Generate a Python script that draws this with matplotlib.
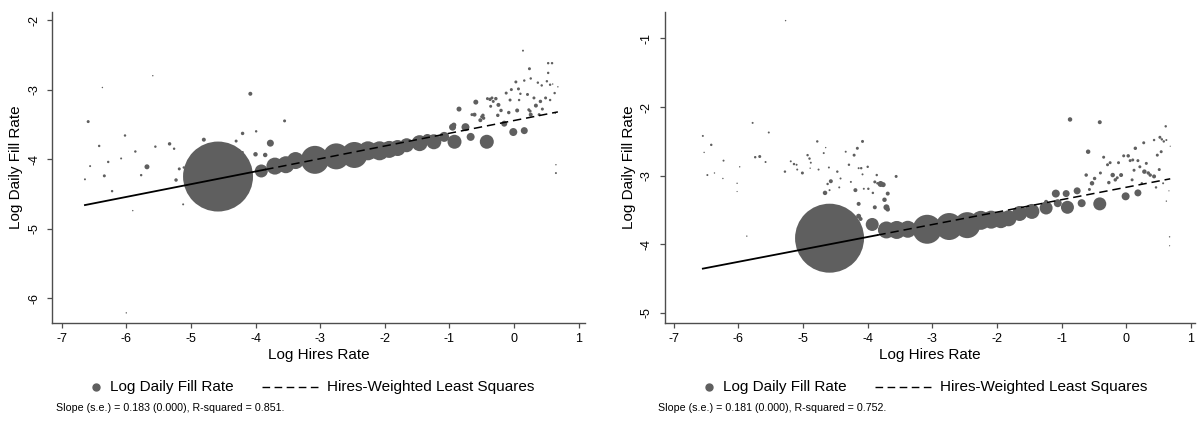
import matplotlib
matplotlib.use("Agg")
import matplotlib.pyplot as plt
import numpy as np
from matplotlib.lines import Line2D

plt.rcParams["font.family"] = ["Liberation Sans", "DejaVu Sans"]
plt.rcParams["axes.unicode_minus"] = False

# ---- left panel: log hires rate, log daily fill rate, hires weight ----
x_left = [-6.64, -6.59, -6.56, -6.42, -6.37, -6.34, -6.28, -6.22, -6.08, -6.02,
          -6.00, -5.90, -5.86, -5.77, -5.68, -5.59, -5.55, -5.33, -5.26, -5.23,
          -5.18, -5.12, -5.11, -4.80, -4.30, -4.26, -4.20, -4.20, -4.08, -4.00,
          -3.99, -3.85, -3.77, -3.55,
          -4.58,
          -3.91, -3.70, -3.53, -3.38, -3.08, -2.75, -2.47, -2.26, -2.08, -1.93,
          -1.80, -1.66, -1.46, -1.34, -1.24, -1.08, -0.92, -0.95, -0.93, -0.85,
          -0.75, -0.67, -0.61, -0.59, -0.52, -0.48, -0.47, -0.42, -0.37, -0.34,
          -0.36, -0.32, -0.28, -0.24, -0.25, -0.20, -0.15, -0.12, -0.08, -0.06,
          -0.04, -0.01, 0.03, 0.05,
          0.07, 0.08, 0.10, 0.16, 0.16, 0.21, 0.24, 0.26, 0.23, 0.26,
          0.31, 0.34, 0.37, 0.39, 0.41, 0.43, 0.44, 0.49, 0.51, 0.53,
          0.53, 0.56, 0.59, 0.60, 0.63, 0.65, 0.65, 0.68, 0.64, 0.14,
          0.25, 0.56, -0.50, -0.41, -0.65]
y_left = [-4.29, -3.46, -4.10, -3.81, -2.97, -4.24, -4.04, -4.46, -3.99, -3.66,
          -6.21, -4.74, -3.89, -4.23, -4.11, -2.80, -3.82, -3.78, -3.85, -4.30,
          -4.14, -4.65, -4.12, -3.72, -3.74, -3.87, -3.90, -3.63, -3.06, -3.93,
          -3.60, -3.94, -3.77, -3.45,
          -4.25,
          -4.17, -4.10, -4.08, -4.02, -4.01, -3.96, -3.94, -3.88, -3.88, -3.86,
          -3.84, -3.80, -3.77, -3.71, -3.75, -3.68, -3.75, -3.54, -3.51, -3.28,
          -3.54, -3.68, -3.36, -3.18, -3.44, -3.37, -3.41, -3.75, -3.14, -3.12,
          -3.24, -3.17, -3.13, -3.22, -3.37, -3.30, -3.49, -3.05, -3.33, -3.15,
          -3.00, -3.61, -2.89, -3.30,
          -2.99, -3.15, -3.06, -3.59, -2.87, -3.07, -2.70, -2.84, -3.29, -3.36,
          -3.12, -3.23, -2.90, -3.36, -3.17, -2.94, -3.28, -3.12, -2.88, -2.62,
          -2.76, -2.93, -2.62, -2.92, -3.05, -4.08, -4.20, -2.96, -3.34, -2.44,
          -3.31, -3.15, -3.39, -3.13, -3.36]
w_left = [4, 9, 4, 6, 2, 9, 6, 6, 4, 6,
          2, 2, 6, 6, 25, 2, 6, 12, 6, 12,
          9, 4, 6, 16, 9, 6, 6, 12, 16, 20,
          6, 20, 49, 9,
          4900,
          169, 289, 289, 289, 784, 676, 676, 361, 361, 289,
          256, 196, 256, 100, 225, 100, 196, 49, 25, 25,
          64, 64, 16, 25, 16, 12, 12, 196, 12, 9,
          9, 9, 12, 16, 12, 12, 36, 9, 12, 9,
          9, 64, 9, 16,
          9, 6, 6, 49, 6, 9, 9, 6, 9, 16,
          9, 16, 6, 9, 12, 6, 9, 9, 6, 6,
          6, 6, 6, 2, 6, 2, 4, 2, 2, 4,
          9, 6, 9, 9, 9]
slope_left, icept_left = 0.183, -3.445
note_left = "Slope (s.e.) = 0.183 (0.000), R-squared = 0.851."

# ---- right panel ----
x_right = [-6.55, -6.53, -6.42, -6.48, -6.37, -6.23, -6.24, -6.02, -6.02, -5.98,
           -5.87, -5.78, -5.74, -5.67, -5.58, -5.53, -5.27, -5.28, -5.19, -5.14,
           -5.10, -5.09, -5.01, -4.93, -4.90, -4.88, -4.89, -4.78, -4.76, -4.68,
           -4.65, -4.66, -4.62, -4.60, -4.57, -4.59, -4.47, -4.44, -4.42, -4.34,
           -4.29, -4.26, -4.21, -4.19, -4.16, -4.14, -4.14, -4.08, -4.10, -4.08,
           -4.06, -4.00, -3.99, -3.89, -3.89, -3.86, -3.85, -3.92, -3.80, -3.76,
           -3.74, -3.69, -3.71, -3.69, -3.56, -4.14, -4.11,
           -4.59,
           -3.93, -3.71, -3.55, -3.38, -3.08, -2.74, -2.46, -2.25, -2.09, -1.94,
           -1.82, -1.65, -1.46, -1.24, -0.91, -1.06, -1.09, -0.93, -0.76, -0.69,
           -0.41, -0.01, 0.18, -1.24,
           -0.87, -0.41, -0.59, -0.62, -0.53, -0.57, -0.49, -0.40, -0.35, -0.29,
           -0.25, -0.27, -0.21, -0.17, -0.14, -0.12, -0.08, -0.04, 0.03, 0.06,
           0.09, 0.10, 0.12, 0.14, 0.18, 0.21, 0.24, 0.27, 0.28, 0.31,
           0.34, 0.37, 0.43, 0.43, 0.46, 0.52, 0.55, 0.54, 0.57, 0.58,
           0.61, 0.62, 0.62, 0.67, 0.67, 0.66, 0.68, 0.51, 0.48]
y_right = [-2.42, -2.66, -2.55, -2.99, -2.96, -2.78, -3.04, -3.11, -3.23, -2.87,
           -3.88, -2.23, -2.73, -2.72, -2.80, -2.37, -0.74, -2.94, -2.79, -2.83,
           -2.84, -2.91, -2.96, -2.70, -2.75, -2.81, -2.89, -2.50, -2.91, -2.67,
           -2.59, -3.25, -3.12, -2.88, -3.08, -3.21, -2.94, -3.17, -3.04, -2.65,
           -2.84, -3.09, -2.70, -3.21, -2.60, -2.89, -3.41, -2.50, -2.89, -2.98,
           -3.19, -2.87, -3.19, -3.09, -3.46, -2.99, -3.11, -3.25, -3.12, -3.13,
           -3.35, -3.26, -3.46, -3.49, -3.01, -3.59, -3.63,
           -3.91,
           -3.71, -3.79, -3.79, -3.78, -3.78, -3.74, -3.72, -3.65, -3.64, -3.64,
           -3.62, -3.55, -3.52, -3.47, -3.46, -3.40, -3.26, -3.26, -3.22, -3.40,
           -3.41, -3.30, -3.25, -3.38,
           -2.18, -2.22, -2.65, -2.99, -3.11, -3.20, -3.04, -2.96, -2.73, -2.84,
           -2.81, -3.10, -2.99, -3.06, -3.03, -2.81, -2.99, -2.71, -2.71, -2.78,
           -3.06, -2.77, -2.92, -2.60, -2.78, -2.87, -3.11, -2.52, -2.94, -2.82,
           -2.96, -2.99, -2.48, -3.01, -3.17, -2.44, -2.47, -2.65, -3.11, -2.50,
           -2.28, -2.48, -3.37, -3.89, -4.02, -3.22, -2.57, -2.91, -2.70]
w_right = [4, 2, 6, 4, 2, 4, 2, 2, 1.4, 2,
           2, 4, 6, 9, 4, 4, 2, 6, 4, 6,
           4, 4, 9, 6, 6, 4, 2, 6, 4, 4,
           2, 20, 6, 4, 16, 4, 6, 4, 4, 4,
           6, 4, 9, 16, 9, 4, 16, 9, 6, 4,
           4, 6, 6, 9, 16, 6, 6, 6, 36, 25,
           20, 16, 36, 20, 9, 25, 16,
           4761,
           169, 289, 324, 289, 841, 729, 676, 361, 324, 289,
           256, 225, 225, 169, 169, 64, 64, 49, 49, 64,
           169, 64, 49, 16,
           20, 16, 20, 12, 20, 9, 12, 9, 9, 9,
           9, 12, 20, 12, 9, 9, 16, 9, 12, 9,
           9, 9, 9, 12, 9, 9, 6, 9, 20, 9,
           12, 12, 6, 16, 6, 9, 6, 9, 4, 6,
           6, 4, 2, 2, 1.4, 1.4, 1.4, 9, 9]
slope_right, icept_right = 0.181, -3.168
note_right = "Slope (s.e.) = 0.181 (0.000), R-squared = 0.752."

W, H = 1204, 429
GREY = "#5f5f5f"
AXC = "#4d4d4d"
DASH = (0, (5.5, 3.2))


def px(x, y):
    return x / W, 1 - y / H


def panel(fig, x0, x1, x, y, w, slope, icept, xlim, ylim, yticks, note, note_x):
    ax = fig.add_axes([x0 / W, 1 - 323.3 / H, (x1 - x0) / W, (323.3 - 11.7) / H])
    s = np.array(w) * 0.518
    ax.scatter(x, y, s=s, color=GREY, linewidths=0, zorder=2)

    # fitted line over the data range; dense left part renders solid
    brk = -3.85
    xa = np.array([min(x), brk])
    xb = np.array([brk, max(x)])
    ax.plot(xa, icept + slope * xa, color="black", lw=1.3, zorder=3)
    ax.plot(xb, icept + slope * xb, color="black", lw=1.1, ls=DASH, zorder=3)

    ax.set_xlim(*xlim)
    ax.set_ylim(*ylim)
    ax.set_xticks(range(-7, 2))
    ax.set_yticks(yticks)
    for side in ("top", "right"):
        ax.spines[side].set_visible(False)
    for side in ("left", "bottom"):
        ax.spines[side].set_color(AXC)
        ax.spines[side].set_linewidth(1.0)
    ax.tick_params(length=3.6, width=0.9, color=AXC, labelsize=9, pad=3.4)
    ax.tick_params(axis="y", labelrotation=90, pad=5)
    for lab in ax.get_yticklabels():
        lab.set_va("center")

    ax.set_xlabel("Log Hires Rate", fontsize=11)
    ax.xaxis.label.set_va("center")
    ax.xaxis.set_label_coords(0.5, -(355 - 323.3) / 311.6)
    ax.set_ylabel("Log Daily Fill Rate", fontsize=11)
    ax.yaxis.label.set_va("center")
    ax.yaxis.set_label_coords(-36 / (x1 - x0), 0.5)

    # legend row below the plot
    ly = 387
    fig.add_artist(Line2D(*zip(px(x0 + 44, ly)), marker="o", ms=5, color=GREY,
                          ls="none", transform=fig.transFigure))
    fig.text(*px(x0 + 58, ly), "Log Daily Fill Rate", fontsize=11, va="center")
    (ax1, ay1), (ax2, ay2) = px(x0 + 210, ly), px(x0 + 266, ly)
    fig.add_artist(Line2D([ax1, ax2], [ay1, ay2], color="black", lw=1.0,
                          ls=DASH, transform=fig.transFigure))
    fig.text(*px(x0 + 275, ly), "Hires-Weighted Least Squares", fontsize=11, va="center")
    fig.text(*px(note_x, 408), note, fontsize=7.7, va="center")
    return ax


fig = plt.figure(figsize=(W / 100, H / 100), dpi=100)
panel(fig, 52, 585, x_left, y_left, w_left, slope_left, icept_left,
      (-7.15, 1.1), (-6.36, -1.88), range(-6, -1), note_left, 56)
panel(fig, 664.7, 1194.8, x_right, y_right, w_right, slope_right, icept_right,
      (-7.14, 1.06), (-5.15, -0.61), range(-5, 0), note_right, 658)
fig.savefig("out.png", dpi=100)
